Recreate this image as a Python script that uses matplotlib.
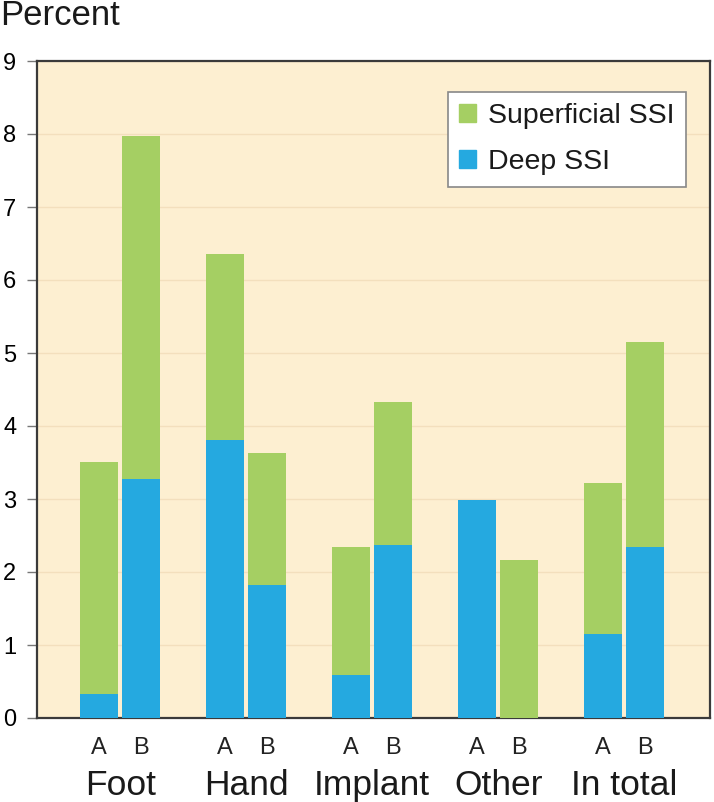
import numpy as np
import matplotlib.pyplot as plt

plt.rcParams['font.family'] = ['Liberation Sans', 'DejaVu Sans']

# data (percent)
groups = ["Foot", "Hand", "Implant", "Other", "In total"]
subgroups = ["A", "B"]
deep_a = [0.33, 3.81, 0.59, 2.99, 1.15]
deep_b = [3.27, 1.82, 2.37, 0.0, 2.34]
total_a = [3.51, 6.36, 2.34, 2.99, 3.22]
total_b = [7.97, 3.63, 4.33, 2.16, 5.15]

green = "#a5cf63"
blue = "#25a9e0"
bg = "#fdefd1"

fig = plt.figure(figsize=(7.14, 8.02), dpi=100)
ax = fig.add_axes([37 / 714, 1 - 718 / 802, (710 - 37) / 714, (718 - 61) / 802])
ax.set_facecolor(bg)

x = np.arange(len(groups))
off = 0.167
w = 0.30
sup_a = np.array(total_a) - np.array(deep_a)
sup_b = np.array(total_b) - np.array(deep_b)

ax.bar(x - off, deep_a, w, color=blue, zorder=3)
ax.bar(x - off, sup_a, w, bottom=deep_a, color=green, zorder=3)
ax.bar(x + off, deep_b, w, color=blue, zorder=3)
ax.bar(x + off, sup_b, w, bottom=deep_b, color=green, zorder=3)

ax.set_ylim(0, 9)
ax.set_xlim(-0.66, 4.68)
ax.set_yticks(range(10))
ax.set_yticklabels([str(i) for i in range(10)], fontsize=17)
ax.yaxis.grid(True, color="#f3dfbd", linewidth=1, zorder=0)
ax.tick_params(axis="y", direction="out", length=7, width=1, color="#777777", pad=8)
ax.set_xticks([])

for s in ax.spines.values():
    s.set_color("#3a3a3a")
    s.set_linewidth(1.6)

# A / B labels and group names below the axis
for i, g in enumerate(groups):
    ax.text(x[i] - off, -0.49, subgroups[0], ha="center", va="baseline", fontsize=17,
            color="#222222", clip_on=False)
    ax.text(x[i] + off, -0.49, subgroups[1], ha="center", va="baseline", fontsize=17,
            color="#222222", clip_on=False)
    ax.text(x[i], -1.05, g, ha="center", va="baseline", fontsize=25.5,
            color="#1a1a1a", clip_on=False)

fig.text(0.0, 1 - 25 / 802, "Percent", ha="left", va="baseline", fontsize=25, color="#1a1a1a")

handles = [plt.Rectangle((0, 0), 1, 1, color=green), plt.Rectangle((0, 0), 1, 1, color=blue)]
leg = ax.legend(handles, ["Superficial SSI", "Deep SSI"], loc="upper right",
                bbox_to_anchor=(0.964, 0.953), borderaxespad=0, fontsize=20.5,
                frameon=True, fancybox=False, framealpha=1,
                edgecolor="#888888", handlelength=0.6, handleheight=0.6,
                labelspacing=0.7, borderpad=0.4, handletextpad=0.4)
leg.get_frame().set_linewidth(1.2)
for t in leg.get_texts():
    t.set_color("#1a1a1a")

fig.savefig("out.png", dpi=100)
